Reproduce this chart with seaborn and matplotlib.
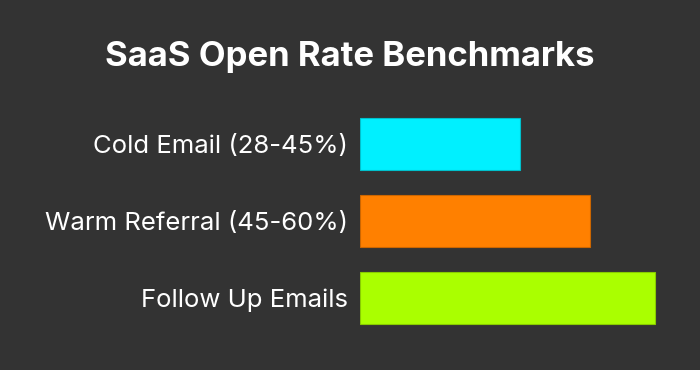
import matplotlib
matplotlib.use("Agg")
import matplotlib.pyplot as plt
import matplotlib.colors as mcolors
import seaborn as sns
import pandas as pd

# Chart data
categories = ["Cold Email (28-45%)", "Warm Referral (45-60%)", "Follow Up Emails"]
open_rates = [36.5, 52.5, 67.5]
bar_colors = ["#00F0FF", "#FF8000", "#AAFF00"]

bg = "#333333"
sns.set_theme(style="white")
plt.rcParams["font.family"] = ["Inter", "DejaVu Sans"]

df = pd.DataFrame({"category": categories, "rate": open_rates})

fig = plt.figure(figsize=(7, 3.7), dpi=100, facecolor=bg)
ax = fig.add_axes([360 / 700, 0.0914, 320 / 700, 0.6243])
ax.set_facecolor(bg)

sns.barplot(data=df, x="rate", y="category", hue="category",
            palette=bar_colors, legend=False, width=0.675, ax=ax,
            orient="h", linewidth=0.8, saturation=1)

# slightly darker outline per bar
for patch, c in zip(ax.patches, bar_colors):
    r, g, b = mcolors.to_rgb(c)
    patch.set_edgecolor((r * 0.8, g * 0.8, b * 0.8))

ax.set_xlim(0, 73.2)
ax.set_ylim(2.5, -0.5)
ax.set_xlabel("")
ax.set_ylabel("")
ax.set_xticks([])
ax.tick_params(axis="y", length=0, pad=8.5, labelsize=18.5, labelcolor="white")
for s in ax.spines.values():
    s.set_visible(False)

fig.text(0.5, 1 - 57 / 370, "SaaS Open Rate Benchmarks", ha="center", va="center",
         color="white", fontsize=25, fontweight="bold")

fig.savefig("out.png", dpi=100, facecolor=bg)
